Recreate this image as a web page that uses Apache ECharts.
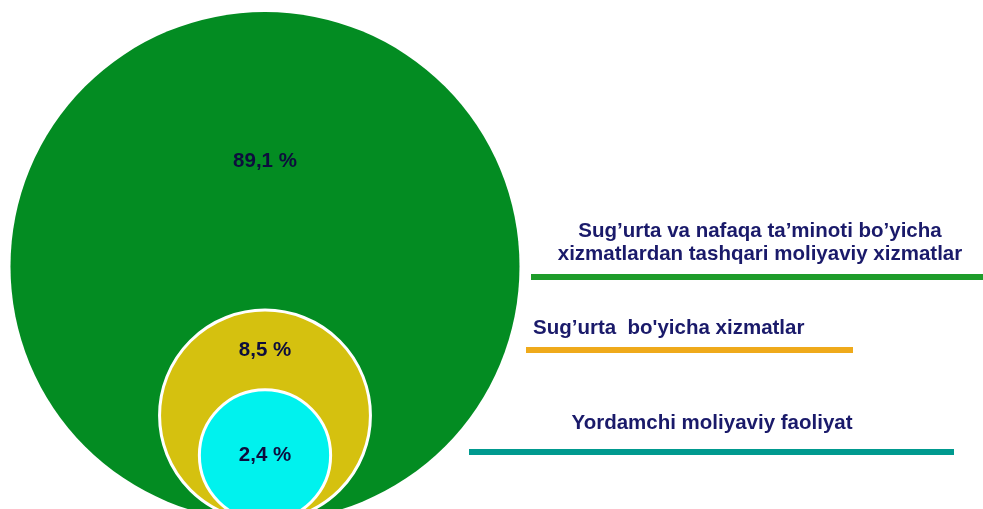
<!DOCTYPE html>
<html>
<head>
<meta charset="utf-8">
<script src="https://cdn.jsdelivr.net/npm/echarts@6/dist/echarts.min.js"></script>
<style>
  html, body { margin: 0; padding: 0; background: #fff; }
  #chart { width: 983px; height: 509px; }
</style>
</head>
<body>
<div id="chart"></div>
<script>
// data
var categories = [
  "Sug\u2019urta va nafaqa ta\u2019minoti bo\u2019yicha\nxizmatlardan tashqari moliyaviy xizmatlar",
  "Sug\u2019urta  bo'yicha xizmatlar",
  "Yordamchi moliyaviy faoliyat"
];
var shares = [89.1, 8.5, 2.4];

// styles
var circleColors = ["#038c22", "#d5c10f", "#00f2ee"];
var lineColors = ["#1e9c2a", "#efaa1b", "#009a8f"];
var textFont = 'bold 20.5px "Liberation Sans", Arial, sans-serif';

// circle radius (px) grows with share, not linearly
function radiusOf(v) {
  return 47.26 * Math.pow(v, 0.375);
}

function pct(v) {
  return String(v).replace(".", ",") + " %";
}

// legend-like captions on the right: [x, y, align] and underline [x1, x2, y]
var captionPos = [[760, 243, "center"], [533, 328, "left"], [712, 423, "center"]];
var underline = [[531, 983, 277], [526, 853, 350], [469, 954, 452]];

var graphics = [];
categories.forEach(function (name, i) {
  graphics.push({
    type: "text",
    x: captionPos[i][0],
    y: captionPos[i][1],
    style: {
      text: name,
      font: textFont,
      fill: "#1a1a6a",
      align: captionPos[i][2],
      verticalAlign: "middle",
      lineHeight: 23
    }
  });
  graphics.push({
    type: "line",
    shape: { x1: underline[i][0], y1: underline[i][2], x2: underline[i][1], y2: underline[i][2] },
    style: { stroke: lineColors[i], lineWidth: 6 }
  });
});

var myChart = echarts.init(document.getElementById("chart"));
myChart.setOption({
  animation: false,
  // circles sit on y = 0, which is 12px below the bottom edge of the picture
  grid: { left: 0, top: 0, width: 983, height: 509 },
  xAxis: { type: "value", min: -265, max: 718, show: false },
  yAxis: { type: "value", min: 12, max: 521, show: false },
  graphic: graphics,
  series: [
    {
      type: "custom",
      coordinateSystem: "cartesian2d",
      clip: false,
      data: shares.map(function (v) { return [0, v]; }),
      encode: { x: 0, y: 1 },
      renderItem: function (params, api) {
        var i = params.dataIndex;
        var r = radiusOf(api.value(1));
        var c = api.coord([api.value(0), r]);
        var rp = api.size([r, r])[0];
        var inner = i + 1 < shares.length ? radiusOf(shares[i + 1]) : 0;
        var labelY = api.coord([0, r + inner])[1];
        return {
          type: "group",
          children: [
            {
              type: "circle",
              shape: { cx: c[0], cy: c[1], r: rp },
              style: { fill: circleColors[i], stroke: "#fff", lineWidth: i ? 3 : 0 }
            },
            {
              type: "text",
              x: c[0],
              y: labelY,
              style: {
                text: pct(api.value(1)),
                font: textFont,
                fill: "#0d0d3d",
                align: "center",
                verticalAlign: "middle"
              }
            }
          ]
        };
      }
    }
  ]
});
</script>
</body>
</html>
